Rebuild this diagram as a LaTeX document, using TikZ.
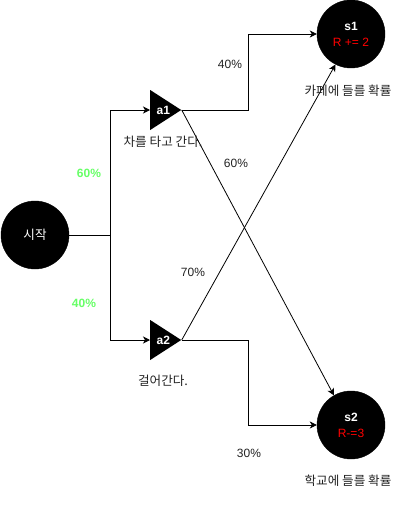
\documentclass[tikz,border=0pt]{standalone}
\usepackage{fontspec}
\setmainfont{Liberation Sans}
\newfontfamily\kr{Noto Sans CJK KR}
\usetikzlibrary{arrows.meta,shapes.geometric}
\definecolor{lgreen}{HTML}{66FF66}
\definecolor{rred}{HTML}{FF0000}
\definecolor{dgray}{HTML}{222222}
\newcommand{\krt}{\kr\fontsize{12.6}{15}\selectfont}
\begin{document}
\begin{tikzpicture}[x=1pt,y=-1pt,
  font=\fontsize{12}{16}\selectfont,
  st/.style={circle, fill=black, draw=black, minimum size=68pt, inner sep=0pt, text=white, align=center},
  act/.style={isosceles triangle, isosceles triangle stretches, shape border rotate=0, fill=black, minimum width=40pt, minimum height=31pt, inner sep=0pt, text=white, font=\fontsize{12}{14}\selectfont\bfseries},
  arr/.style={-{Stealth[length=7pt,width=7pt,inset=2pt]}, line width=0.8pt},
  ln/.style={line width=0.8pt},
  lab/.style={inner sep=0pt, text=dgray},
  glab/.style={inner sep=0pt, text=lgreen, font=\fontsize{12}{14}\selectfont\bfseries}]
\useasboundingbox (0,0) rectangle (402,511);
\node[st] (start) at (35,235) {\krt 시작};
\node[act, anchor=lower side] (a1) at (150,110) {\hspace{4pt}a1};
\node[act, anchor=lower side] (a2) at (150,340) {\hspace{4pt}a2};
\node[st] (s1) at (351,34) {\textbf{s1}\\\textcolor{rred}{R += 2}};
\node[st] (s2) at (351,425) {\textbf{s2}\\\textcolor{rred}{R-=3}};
\coordinate (j) at (110,235);
\coordinate (b) at (248,0);
\draw[ln] (start.east) -- (j);
\draw[arr] (j) |- (a1.lower side);
\draw[arr] (j) |- (a2.lower side);
\draw[arr] (a1.apex) -- (a1.apex -| b) |- (s1.west);
\draw[arr] (a2.apex) -- (a2.apex -| b) |- (s2.west);
\draw[arr] (a1.apex) -- (s2.120);
\draw[arr] (a2.apex) -- (s1.243);
\node[glab] (p60) at (89,173) {60\%};
\node[glab] (p40) at (84,303) {40\%};
\node[lab] (q40) at (230,64) {40\%};
\node[lab] (q60) at (236,163) {60\%};
\node[lab] (q70) at (193,272) {70\%};
\node[lab] (q30) at (249,453) {30\%};
\node[lab] (t1) at (163,142) {\krt 차를 타고 간다.};
\node[lab] (t2) at (163,381) {\krt 걸어간다.};
\node[lab] (t3) at (348,91) {\krt 카페에 들를 확률};
\node[lab] (t4) at (348,481) {\krt 학교에 들를 확률};
\end{tikzpicture}
\end{document}
